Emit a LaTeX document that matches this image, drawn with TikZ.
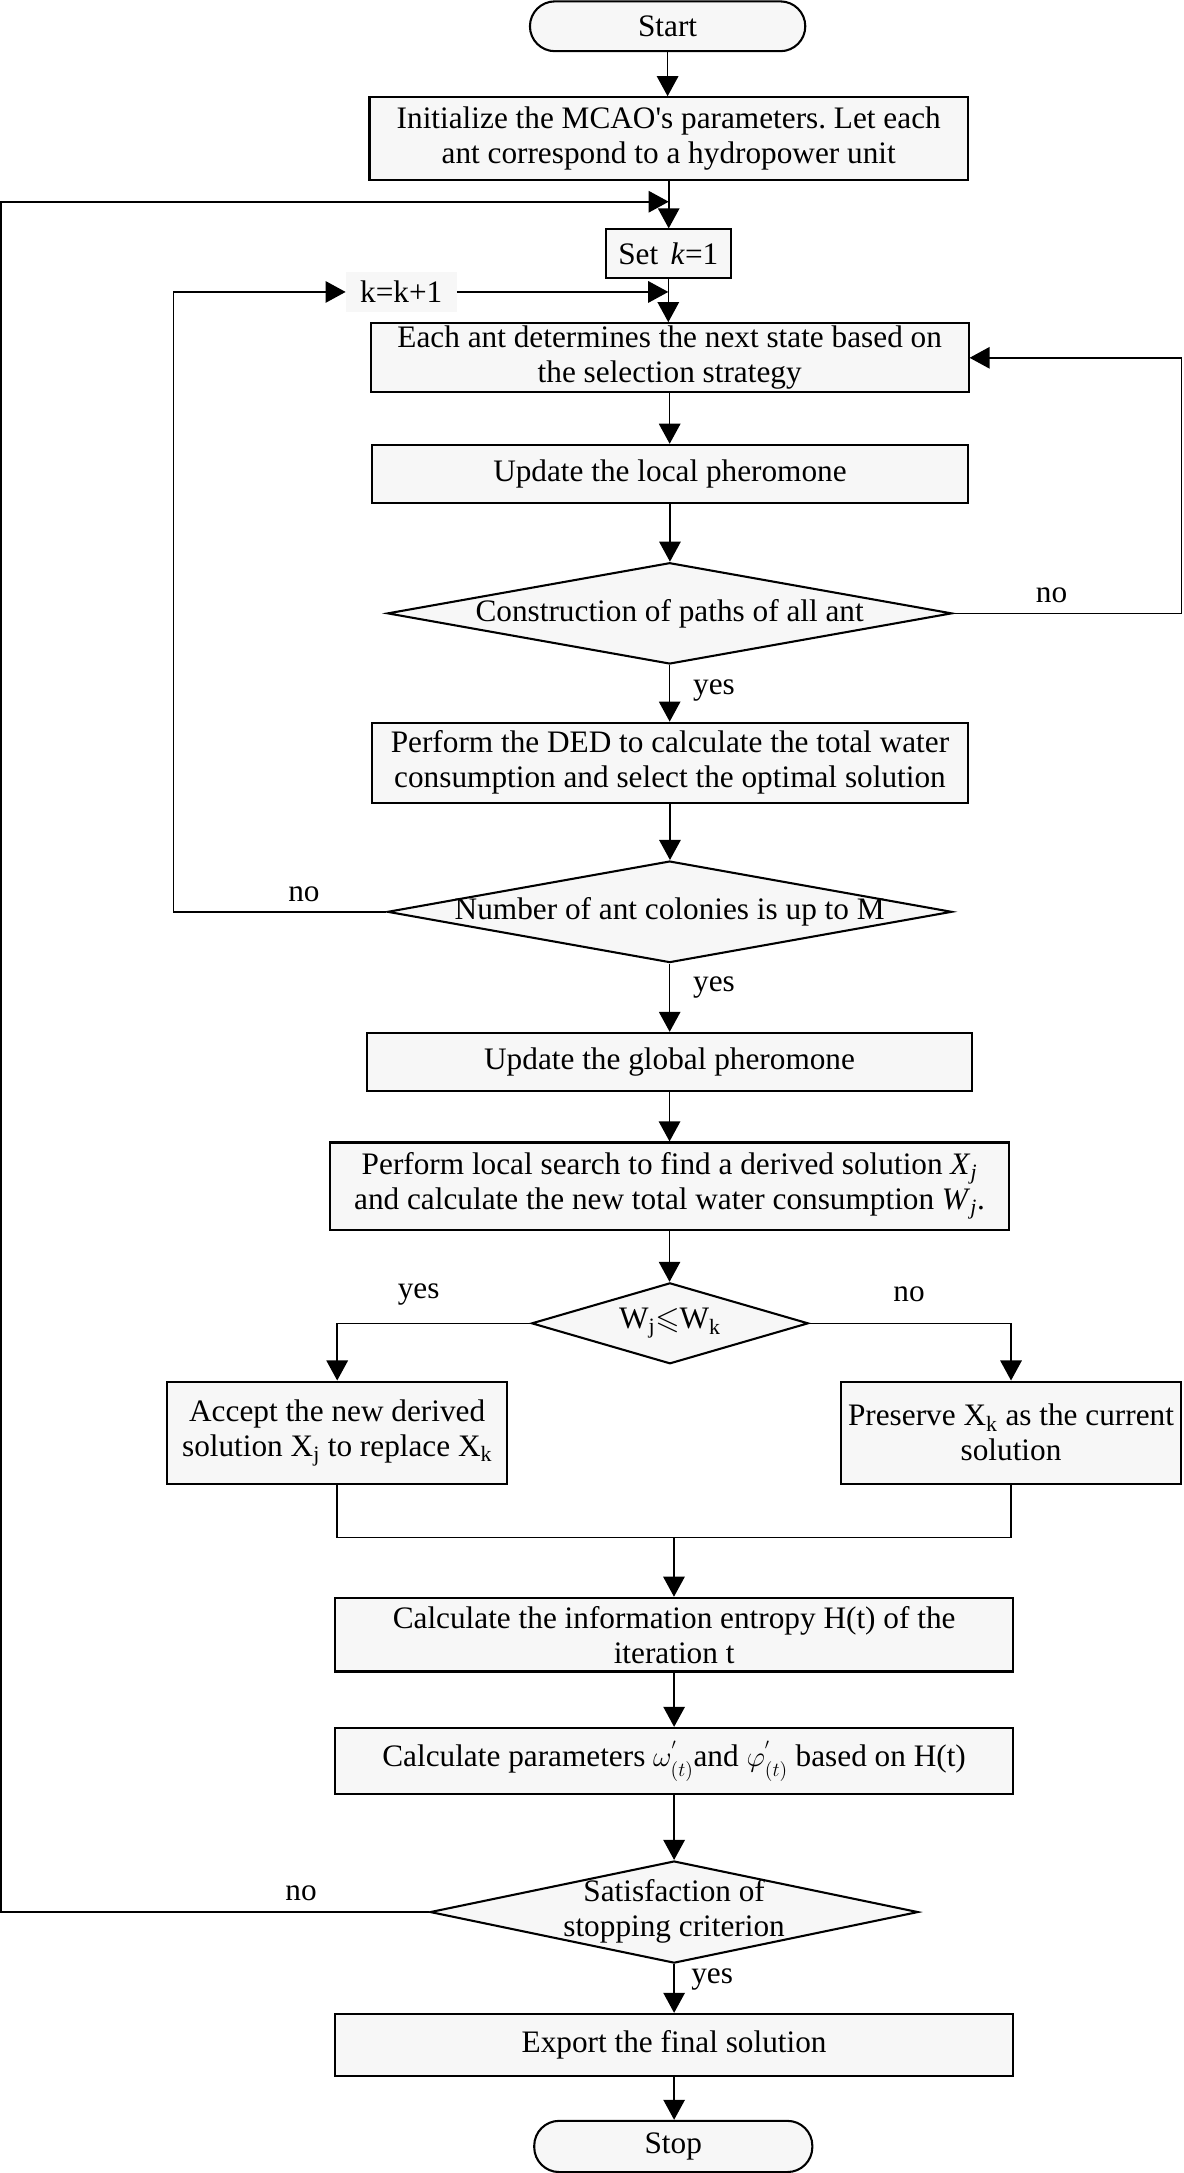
\documentclass[tikz,border=0pt]{standalone}
\usepackage{amsmath,amssymb}
\usepackage{fontspec}
\setmainfont{Liberation Serif}[Ligatures=TeXOff]
\usetikzlibrary{arrows.meta,shapes.geometric}
\definecolor{boxfill}{RGB}{247,247,247}
\frenchspacing
\begin{document}
\frenchspacing
\begin{tikzpicture}[x=1pt,y=-1pt,
  font=\fontsize{22.6}{25.3}\selectfont\frenchspacing,
  proc/.style={draw, line width=1.5pt, fill=boxfill, inner sep=0pt, align=center},
  term/.style={draw, line width=1.5pt, fill=boxfill, rounded corners=18pt, inner sep=0pt},
  dec/.style={draw, diamond, line width=1.5pt, fill=boxfill, inner sep=0pt},
  arr/.style={line width=1.15pt, -{Triangle[length=14.5pt,width=15.5pt]}},
  ln/.style={line width=1.15pt},
  lbl/.style={inner sep=0pt}
]
\useasboundingbox (0,0) rectangle (855,1570.5);

% nodes
\node[term, minimum width=199pt, minimum height=36pt] (start) at (482.5,19) {Start};
\node[proc, minimum width=432.5pt, minimum height=60pt] (init) at (483.3,100.3)
  {Initialize the MCAO's parameters. Let each\\ant correspond to a hydropower unit};
\node[proc, minimum width=90.6pt, minimum height=35pt] (setk) at (483,183.3)
  {Set\hspace{0.4em}\textit{k}=1};
\node[fill=boxfill, minimum width=80pt, minimum height=29pt, inner sep=0pt] (kk) at (290,211) {k=k+1};
\node[proc, minimum width=432pt, minimum height=50pt] (each) at (484,258.6)
  {Each ant determines the next state based on\\the selection strategy};
\node[proc, minimum width=430.8pt, minimum height=41.8pt] (upl) at (484.2,342.4)
  {Update the local pheromone};
\node[dec, minimum width=408pt, minimum height=73.2pt] (d1) at (484,443.3)
  {\makebox[0pt]{Construction of paths of all ant}};
\node[proc, minimum width=430.8pt, minimum height=58pt] (ded) at (484.2,551.3)
  {Perform the DED to calculate the total water\\consumption and select the optimal solution};
\node[dec, minimum width=408pt, minimum height=73.4pt] (d2) at (484,659)
  {\makebox[0pt]{Number of ant colonies is up to M}};
\node[proc, minimum width=436.8pt, minimum height=41.8pt] (upg) at (483.9,767.4)
  {Update the global pheromone};
\node[proc, minimum width=490.2pt, minimum height=63pt] (ls) at (483.9,857.2)
  {Perform local search to find a derived solution \textit{X}\textsubscript{\textit{j}}\\and calculate the new total water consumption \textit{W}\textsubscript{\textit{j}}.};
\node[dec, minimum width=200pt, minimum height=58.5pt] (d3) at (484.2,956.4)
  {\makebox[0pt]{W\textsubscript{j}$\leqslant$W\textsubscript{k}}};
\node[proc, minimum width=245.4pt, minimum height=74pt] (acc) at (243.7,1035.5)
  {Accept the new derived\\solution X\textsubscript{j} to replace X\textsubscript{k}};
\node[proc, minimum width=245.4pt, minimum height=74pt] (pres) at (730.7,1035.5)
  {Preserve X\textsubscript{k} as the current\\solution};
\node[proc, minimum width=490.3pt, minimum height=53.3pt] (info) at (487.2,1181.4)
  {Calculate the information entropy H(t) of the\\iteration t};
\node[proc, minimum width=490.3pt, minimum height=47.8pt] (calc) at (487.2,1272.7)
  {Calculate parameters $\omega^{'}_{(t)}$and $\varphi^{'}_{(t)}$ based on H(t)};
\node[dec, minimum width=352.8pt, minimum height=73.8pt] (d4) at (487.2,1381.9)
  {\makebox[0pt]{\begin{tabular}{@{}c@{}}Satisfaction of\\stopping criterion\end{tabular}}};
\node[proc, minimum width=490.3pt, minimum height=44.6pt] (exp) at (487.2,1477.8)
  {Export the final solution};
\node[term, minimum width=201pt, minimum height=37pt] (stop) at (486.6,1551.3) {Stop};

% labels
\node[lbl] (no1) at (760,430) {no};
\node[lbl] (yes1) at (516,499) {yes};
\node[lbl] (no2) at (219.7,646) {no};
\node[lbl] (yes2) at (516,713.6) {yes};
\node[lbl] (yes3) at (302.6,935.7) {yes};
\node[lbl] (no3) at (657,935.7) {no};
\node[lbl] (no4) at (217.6,1368.3) {no};
\node[lbl] (yes4) at (514.7,1430.3) {yes};

% coordinates
\coordinate (j1) at (483.3,145.8);
\coordinate (j2) at (483,211);
\coordinate (lo1) at (0.8,1381.9);
\coordinate (lo2) at (0.8,145.8);
\coordinate (lk1) at (125.3,659);
\coordinate (lk2) at (125.3,211);
\coordinate (rl1) at (854,443.3);
\coordinate (rl2) at (854,258.6);
\coordinate (m) at (487.1,1111.3);

% connectors
\draw[arr] (start.south) -- (start.south |- init.north);
\draw[arr] (init.south) -- (init.south |- setk.north);
\draw[arr] (d4.west) -- (lo1) -- (lo2) -- (j1);
\draw[arr] (setk.south) -- (setk.south |- each.north);
\draw[arr] (d2.west) -- (lk1) -- (lk2) -- (kk.west);
\draw[arr] (kk.east) -- (j2);
\draw[arr] (each.south) -- (each.south |- upl.north);
\draw[arr] (upl.south) -- (upl.south |- d1.north);
\draw[arr] (d1.east) -- (rl1) -- (rl2) -- (each.east);
\draw[arr] (d1.south) -- (d1.south |- ded.north);
\draw[arr] (ded.south) -- (ded.south |- d2.north);
\draw[arr] (d2.south) -- (d2.south |- upg.north);
\draw[arr] (upg.south) -- (upg.south |- ls.north);
\draw[arr] (ls.south) -- (ls.south |- d3.north);
\draw[arr] (d3.west) -| (acc.north);
\draw[arr] (d3.east) -| (pres.north);
\draw[ln] (acc.south) -- (acc.south |- m) -- (pres.south |- m) -- (pres.south);
\draw[arr] (m) -- (m |- info.north);
\draw[arr] (info.south) -- (info.south |- calc.north);
\draw[arr] (calc.south) -- (calc.south |- d4.north);
\draw[arr] (d4.south) -- (d4.south |- exp.north);
\draw[arr] (exp.south) -- (exp.south |- stop.north);
\end{tikzpicture}
\end{document}
